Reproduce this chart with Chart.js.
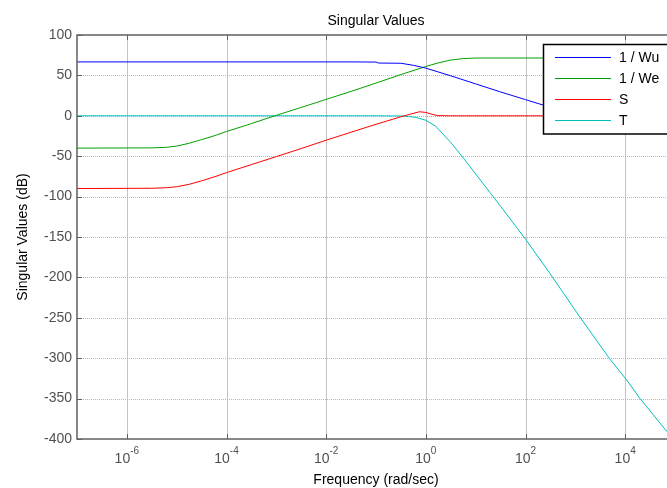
<!DOCTYPE html>
<html>
<head>
<meta charset="utf-8">
<title>Singular Values</title>
<script src="https://cdn.jsdelivr.net/npm/chart.js@4.4.0/dist/chart.umd.min.js"></script>
<style>
  html, body { margin: 0; padding: 0; background: #fff; overflow: hidden; }
  #wrap { width: 667px; height: 488px; overflow: hidden; position: relative; }
  canvas { display: block; }
</style>
</head>
<body>
<div id="wrap"><canvas id="sv" width="690" height="488"></canvas></div>
<script>
// Frequencies are stored as decade exponents (rad/sec = 10^exp), magnitudes in dB.
const wuExp = [-7, -1.5, -1, -0.95, -0.5, -0.25, 0, 0.5, 1, 1.5, 2, 2.5, 3, 3.5, 4, 5];
const wuDb  = [66.7, 66.7, 66.5, 65.3, 65, 62.5, 59, 49.5, 39.5, 29.5, 20, 10.5, 2, -4, -8, -10];

const weExp = [-7, -5.5, -5.2, -5, -4.75, -4.5, -4.25, -4, -3.5, -3, -2.5, -2, -1.5, -1, -0.5, 0, 0.25, 0.5, 0.75, 1, 5];
const weDb  = [-40, -39.7, -39, -37.5, -34, -29.5, -24.8, -19.5, -9.6, 0.6, 10.4, 20.3, 30.2, 40.5, 51, 61, 65.5, 69, 70.8, 71.5, 71.5];

const sExp = [-7, -5.5, -5.2, -5, -4.75, -4.5, -4.25, -4, -3.5, -3, -2.5, -2, -1.5, -1, -0.5, -0.3, -0.13, 0, 0.1, 0.24, 0.5, 5];
const sDb  = [-90, -89.7, -89, -87.8, -84.8, -80.5, -75.7, -70.3, -60.4, -50.5, -40.5, -30.2, -20.3, -10.5, -1.2, 2.2, 5, 4.2, 2.3, 0.2, 0, 0];

const tExp = [-7, -1, -0.5, -0.35, -0.2, 0, 0.2, 0.35, 0.5, 0.62, 0.8, 1, 1.22, 1.5, 2.01, 2.49, 3.09, 3.68, 4.03, 4.3, 4.84, 5];
const tDb  = [0, 0, -0.2, -0.8, -2, -5.5, -13, -23, -33, -42, -56, -72, -89.5, -112, -153.5, -195, -249, -300, -327, -350, -391, -404];

const seriesNames  = ['1 / Wu', '1 / We', 'S', 'T'];
const seriesColors = ['#0000ff', '#00a000', '#ff0000', '#00bfbf'];

const xTickExps = [-6, -4, -2, 0, 2, 4];
const yTickValues = [100, 50, 0, -50, -100, -150, -200, -250, -300, -350, -400];

const chartTitle = 'Singular Values';
const xTitle = 'Frequency (rad/sec)';
const yTitle = 'Singular Values (dB)';

const FONT = '"Liberation Sans", Arial, Helvetica, sans-serif';

function toPoints(exps, vals) {
  return exps.map((e, i) => ({ x: Math.pow(10, e), y: vals[i] }));
}

const seriesData = [toPoints(wuExp, wuDb), toPoints(weExp, weDb), toPoints(sExp, sDb), toPoints(tExp, tDb)];

// Grid, axes box, tick marks, exponent tick labels, titles and legend in a MATLAB-like style.
const matlabAxes = {
  id: 'matlabAxes',
  beforeDatasetsDraw(chart) {
    const { ctx, chartArea: a, scales: { x, y } } = chart;
    ctx.save();
    // vertical grid at labelled decades
    ctx.strokeStyle = 'rgba(175,175,175,0.75)';
    ctx.lineWidth = 1;
    ctx.setLineDash([]);
    xTickExps.forEach(e => {
      const px = Math.round(x.getPixelForValue(Math.pow(10, e))) + 0.5;
      ctx.beginPath(); ctx.moveTo(px, a.top); ctx.lineTo(px, a.bottom); ctx.stroke();
    });
    // horizontal dotted grid
    ctx.strokeStyle = '#b8b8b8';
    ctx.setLineDash([1, 1]);
    yTickValues.forEach(v => {
      if (v === 100 || v === -400) return;
      const py = Math.round(y.getPixelForValue(v)) + 0.5;
      ctx.beginPath(); ctx.moveTo(a.left, py); ctx.lineTo(a.right, py); ctx.stroke();
    });
    ctx.restore();
  },
  afterDatasetsDraw(chart) {
    const { ctx, chartArea: a, scales: { x, y } } = chart;
    ctx.save();
    ctx.setLineDash([]);
    // axes box
    ctx.strokeStyle = '#606060';
    ctx.lineWidth = 1.5;
    ctx.strokeRect(a.left, a.top, a.right - a.left, a.bottom - a.top);

    // inward tick marks
    ctx.lineWidth = 1;
    ctx.strokeStyle = '#606060';
    xTickExps.forEach(e => {
      const px = Math.round(x.getPixelForValue(Math.pow(10, e))) + 0.5;
      ctx.beginPath();
      ctx.moveTo(px, a.bottom); ctx.lineTo(px, a.bottom - 5);
      ctx.moveTo(px, a.top); ctx.lineTo(px, a.top + 5);
      ctx.stroke();
    });
    yTickValues.forEach(v => {
      const py = Math.round(y.getPixelForValue(v)) + 0.5;
      ctx.beginPath(); ctx.moveTo(a.left, py); ctx.lineTo(a.left + 5, py); ctx.stroke();
    });

    // x tick labels: 10 with a raised exponent
    ctx.fillStyle = '#505050';
    ctx.textBaseline = 'alphabetic';
    ctx.textAlign = 'left';
    xTickExps.forEach(e => {
      const px = x.getPixelForValue(Math.pow(10, e));
      ctx.font = '14px ' + FONT;
      const baseW = ctx.measureText('10').width;
      ctx.font = '10px ' + FONT;
      const expTxt = e < 0 ? '-' + Math.abs(e) : String(e);
      const expW = ctx.measureText(expTxt).width;
      const x0 = px - (baseW + expW) / 2;
      ctx.font = '14px ' + FONT;
      ctx.fillText('10', x0, 463);
      ctx.font = '10px ' + FONT;
      ctx.fillText(expTxt, x0 + baseW, 453.5);
    });

    // titles
    const cx = (a.left + a.right) / 2;
    ctx.fillStyle = '#000';
    ctx.font = '14px ' + FONT;
    ctx.textAlign = 'center';
    ctx.fillText(chartTitle, cx, 24.5);
    ctx.fillText(xTitle, cx, 484);
    ctx.save();
    ctx.translate(27, (a.top + a.bottom) / 2);
    ctx.rotate(-Math.PI / 2);
    ctx.fillText(yTitle, 0, 0);
    ctx.restore();

    // legend box
    const lx = 543.5, ly = 44.5, lw = 200, lh = 89.5;
    ctx.fillStyle = '#fff';
    ctx.fillRect(lx, ly, lw, lh);
    ctx.strokeStyle = '#000';
    ctx.lineWidth = 1.5;
    ctx.strokeRect(lx, ly, lw, lh);
    ctx.font = '14px ' + FONT;
    ctx.textAlign = 'left';
    ctx.textBaseline = 'middle';
    chart.data.datasets.forEach((ds, i) => {
      const ry = 57.5 + i * 21;
      ctx.strokeStyle = ds.borderColor;
      ctx.lineWidth = 1;
      ctx.beginPath(); ctx.moveTo(555, ry); ctx.lineTo(611, ry); ctx.stroke();
      ctx.fillStyle = '#000';
      ctx.fillText(ds.label, 619, ry + 1);
    });
    ctx.restore();
  }
};

new Chart(document.getElementById('sv'), {
  type: 'line',
  data: {
    datasets: seriesNames.map((name, i) => ({
      label: name,
      data: seriesData[i],
      borderColor: seriesColors[i],
      backgroundColor: seriesColors[i],
      borderWidth: 1,
      pointRadius: 0,
      tension: 0,
      fill: false
    }))
  },
  options: {
    responsive: false,
    animation: false,
    devicePixelRatio: 1,
    layout: { padding: { top: 35, right: 15, left: 0, bottom: 0 } },
    plugins: {
      legend: { display: false },
      title: { display: false },
      tooltip: { enabled: false }
    },
    scales: {
      x: {
        type: 'logarithmic',
        min: 1e-7,
        max: 1e5,
        grid: { display: false, drawTicks: false },
        border: { display: false },
        ticks: { display: false },
        afterBuildTicks(scale) {
          scale.ticks = xTickExps.map(e => ({ value: Math.pow(10, e) }));
        },
        afterFit(scale) { scale.height = 49; }
      },
      y: {
        type: 'linear',
        min: -400,
        max: 100,
        grid: { display: false, drawTicks: false },
        border: { display: false },
        ticks: {
          stepSize: 50,
          padding: 5,
          color: '#505050',
          font: { family: FONT, size: 14 }
        },
        afterFit(scale) { scale.width = 77; }
      }
    }
  },
  plugins: [matlabAxes]
});
</script>
</body>
</html>
